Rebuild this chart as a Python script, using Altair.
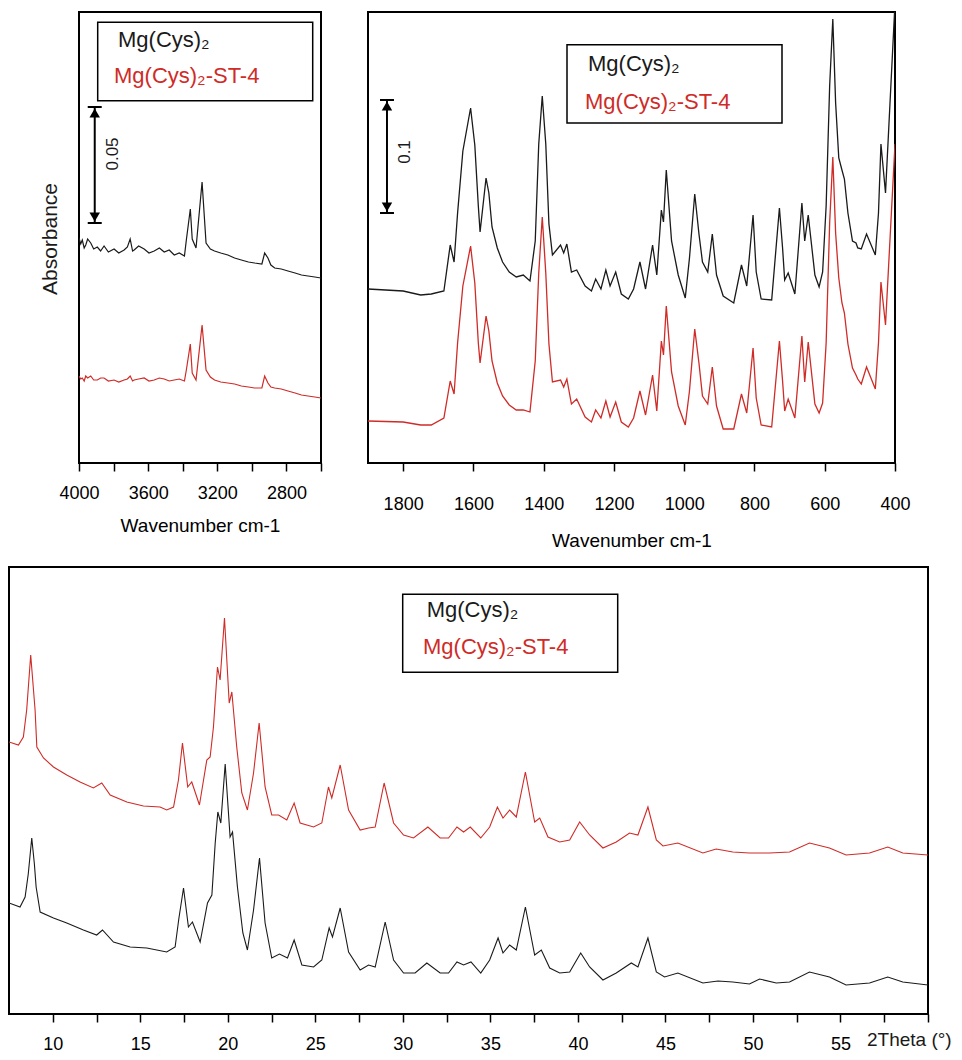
import altair as alt
import pandas as pd

FONT = "Liberation Sans"
BLACK = "#1a1a1a"
RED = "#cf2b27"
SERIES = ["Mg(Cys)₂", "Mg(Cys)₂-ST-4"]

# ---------------- IR 4000-2600 cm-1 (offset absorbance, a.u.) ----------------
ir_hi_wn = [4000, 3990, 3981, 3970, 3961, 3950, 3932, 3915, 3894, 3875, 3855, 3830, 3797,
            3770, 3739, 3720, 3704, 3690, 3681, 3655, 3623, 3595, 3565, 3535, 3507, 3478,
            3449, 3420, 3390, 3379, 3356, 3345, 3323, 3288, 3265, 3240, 3216, 3180, 3139,
            3100, 3061, 3020, 2984, 2942, 2926, 2907, 2890, 2868, 2830, 2791, 2750, 2713,
            2675, 2636, 2600]
ir_hi_black = [225, 219, 223, 215, 218, 224, 220, 214, 216, 212, 217, 211, 214,
               210, 213, 216, 224, 212, 213, 217, 214, 210, 212, 215, 211, 213,
               208, 210, 207, 223, 254, 224, 215, 281, 220, 214, 212, 210, 208,
               205, 203, 201, 200, 199, 210, 205, 198, 195, 194, 192, 190, 188,
               187, 186, 185]
ir_hi_red = [87, 84, 85, 82, 87, 85, 87, 83, 83, 85, 85, 82, 83,
             81, 83, 84, 87, 82, 83, 84, 85, 82, 83, 85, 84, 82,
             83, 84, 82, 93, 119, 90, 83, 138, 93, 86, 83, 81, 80,
             79, 77, 76, 75, 75, 87, 80, 76, 75, 74, 72, 70, 68,
             67, 66, 65]
ir_hi_ticks = [2600, 2800, 3000, 3200, 3400, 3600, 3800, 4000]
ir_hi_bar = [3909, 240, 356]          # x, bottom, top of the 0.05 bar

# ---------------- IR 1900-400 cm-1 ----------------
ir_lo_wn = [1900, 1800, 1750, 1720, 1684, 1666, 1655, 1645, 1630, 1608, 1596, 1586, 1581,
            1564, 1556, 1547, 1532, 1517, 1498, 1478, 1458, 1439, 1424, 1414, 1404, 1394,
            1385, 1375, 1352, 1343, 1334, 1321, 1306, 1282, 1264, 1252, 1237, 1223, 1211,
            1195, 1179, 1159, 1144, 1126, 1110, 1090, 1078, 1065, 1059, 1051, 1036, 1017,
            997, 985, 970, 958, 948, 933, 920, 908, 889, 859, 837, 822, 804, 795, 781, 751,
            729, 720, 714, 704, 685, 665, 657, 647, 628, 616, 606, 596, 586, 577, 569, 560,
            551, 544, 534, 521, 511, 506, 496, 481, 456, 447, 440, 427, 400]
ir_lo_black = [174, 172, 168, 169, 172, 218, 201, 250, 312, 355, 318, 257, 231,
               285, 270, 236, 215, 201, 191, 186, 188, 182, 222, 319, 367, 319,
               239, 208, 218, 210, 219, 191, 193, 177, 172, 184, 174, 193, 177,
               191, 169, 164, 174, 201, 174, 218, 188, 253, 241, 293, 222, 188,
               165, 205, 269, 229, 201, 191, 229, 188, 167, 160, 198, 177, 248, 191, 164, 163,
               255, 215, 183, 190, 169, 260, 222, 248, 188, 176, 191, 257, 377, 444, 360, 305,
               293, 284, 250, 222, 220, 215, 214, 229, 208, 250, 319, 270, 460]
ir_lo_red = [42, 41, 38, 38, 45, 82, 69, 120, 177, 217, 180, 120, 100,
             147, 132, 102, 80, 67, 58, 53, 53, 51, 102, 190, 246, 190,
             119, 81, 83, 76, 84, 59, 64, 46, 41, 53, 45, 62, 46,
             61, 41, 36, 45, 72, 48, 88, 52, 122, 108, 157, 91, 57,
             38, 72, 134, 100, 67, 59, 96, 57, 34, 34, 69, 50, 115, 65, 38, 36,
             122, 82, 52, 64, 45, 127, 81, 121, 59, 50, 60, 120, 240, 306, 230, 185,
             160, 150, 119, 95, 88, 84, 79, 96, 74, 120, 181, 138, 319]
ir_lo_ticks = [400, 600, 800, 1000, 1200, 1400, 1600, 1800]
ir_lo_bar = [1846, 250, 363]          # x, bottom, top of the 0.1 bar

# ---------------- XRD ----------------
xrd_red_2t = [7.5, 8.04, 8.32, 8.51, 8.74, 8.99, 9.09, 9.47, 10.04, 10.8, 11.56, 12.32, 12.8,
              13.28, 14.23, 15.18, 16.13, 16.51, 16.9, 17.18, 17.41, 17.71, 17.94, 18.38,
              18.8, 18.99, 19.18, 19.41, 19.56, 19.81, 20.08, 20.23, 20.51, 20.8, 21.12,
              21.47, 21.79, 22.13, 22.51, 22.9, 23.37, 23.79, 24.13, 24.9, 25.37, 25.75,
              25.94, 26.42, 26.9, 27.56, 28.04, 28.42, 28.93, 29.47, 30.04, 30.61, 31.43,
              32.13, 32.61, 33.09, 33.47, 33.85, 34.45, 34.96, 35.4, 35.72, 36.1, 36.48,
              37.0, 37.53, 37.82, 38.29, 38.96, 39.53, 40.1, 40.67, 41.43, 42.19, 42.95,
              43.43, 44.0, 44.48, 44.86, 45.71, 47.14, 47.9, 48.85, 49.8, 50.95, 52.09,
              53.23, 54.37, 55.32, 56.66, 57.7, 58.56, 60.0]
xrd_red_i = [272, 269, 277, 304, 359, 304, 267, 256, 247, 239, 232, 226, 231,
             219, 212, 208, 207, 204, 207, 234, 271, 227, 232, 209,
             254, 257, 287, 347, 334, 396, 311, 322, 267, 221, 204,
             241, 291, 227, 199, 199, 194, 211, 191, 187, 191, 227,
             216, 249, 204, 184, 186, 187, 231, 191, 179, 176, 187,
             176, 176, 187, 182, 187, 176, 187, 207, 196, 204, 197,
             242, 192, 196, 177, 172, 174, 192, 179, 166, 172, 181,
             179, 207, 174, 168, 171, 161, 165, 162, 161, 161, 162,
             171, 166, 159, 161, 167, 161, 159]
xrd_black_2t = [7.5, 8.13, 8.42, 8.6, 8.8, 8.95, 9.05, 9.28, 10.04, 10.8, 11.75, 12.51, 12.84,
                13.47, 14.42, 15.37, 16.51, 16.99, 17.2, 17.47, 17.75, 17.98, 18.42, 18.84,
                19.09, 19.28, 19.43, 19.6, 19.85, 20.13, 20.27, 20.55, 20.86, 21.12, 21.47,
                21.81, 22.13, 22.51, 22.95, 23.41, 23.79, 24.23, 24.9, 25.37, 25.79, 25.98,
                26.42, 26.9, 27.56, 28.04, 28.42, 28.99, 29.47, 30.04, 30.7, 31.37, 32.13,
                32.61, 33.09, 33.47, 33.89, 34.45, 34.96, 35.44, 35.72, 36.1, 36.48, 37.0,
                37.53, 37.91, 38.39, 38.96, 39.53, 40.16, 40.67, 41.43, 42.19, 43.05, 43.43,
                44.0, 44.48, 44.95, 45.71, 47.14, 48.0, 48.85, 49.8, 50.38, 51.33, 52.09,
                53.23, 54.37, 55.32, 56.66, 57.7, 58.56, 60.0]
xrd_black_i = [111, 107, 117, 140, 176, 150, 127, 102, 96, 91, 84, 79, 84,
               72, 67, 66, 62, 67, 95, 126, 87, 92, 72, 111,
               119, 171, 202, 191, 250, 177, 182, 127, 81, 64, 104,
               156, 91, 56, 60, 56, 74, 49, 47, 54, 86, 77,
               106, 62, 44, 49, 47, 92, 54, 41, 41, 51, 41,
               41, 52, 49, 52, 41, 54, 76, 61, 69, 64, 107,
               59, 64, 46, 41, 42, 61, 47, 34, 41, 51, 47,
               76, 42, 37, 41, 31, 33, 32, 30, 35, 31, 32,
               42, 37, 29, 31, 37, 32, 29]
xrd_ticks = [10, 12.5, 15, 17.5, 20, 22.5, 25, 27.5, 30, 32.5, 35, 37.5, 40, 42.5,
             45, 47.5, 50, 52.5, 55, 57.5, 60]


def long_df(xa, ya, xb, yb):
    return pd.DataFrame({
        "x": list(xa) + list(xb),
        "y": list(ya) + list(yb),
        "s": [SERIES[0]] * len(xa) + [SERIES[1]] * len(xb),
    })


one = pd.DataFrame({"a": [0]})
color = alt.Color("s:N", scale=alt.Scale(domain=SERIES, range=[BLACK, RED]), legend=None)


def legend_layers(x0, x1, y0, y1, tx_black, ty_black, tx_red, ty_red, fs=22):
    box = alt.Chart(one).mark_rect(fill="white", stroke="black", strokeWidth=1.5).encode(
        x=alt.value(x0), x2=alt.value(x1), y=alt.value(y0), y2=alt.value(y1))
    t1 = alt.Chart(one).mark_text(align="left", baseline="middle", font=FONT, fontSize=fs,
                                  color=BLACK).encode(
        x=alt.value(tx_black), y=alt.value(ty_black), text=alt.value(SERIES[0]))
    t2 = alt.Chart(one).mark_text(align="left", baseline="middle", font=FONT, fontSize=fs,
                                  color=RED).encode(
        x=alt.value(tx_red), y=alt.value(ty_red), text=alt.value(SERIES[1]))
    return [box, t1, t2]


def scalebar_layers(bar, xenc, yenc, label, lx, ly):
    dfb = pd.DataFrame({"x": [bar[0]], "y": [bar[1]], "y2": [bar[2]]})
    dfc = pd.DataFrame({"x": [bar[0], bar[0]], "y": [bar[1], bar[2]]})
    dft = pd.DataFrame({"x": [bar[0]], "y": [bar[2]]})
    dfbm = pd.DataFrame({"x": [bar[0]], "y": [bar[1]]})
    rule = alt.Chart(dfb).mark_rule(color="black", strokeWidth=2).encode(
        x=xenc, y=yenc, y2="y2:Q")
    caps = alt.Chart(dfc).mark_point(shape="stroke", size=196, strokeWidth=2,
                                     color="black", opacity=1).encode(x=xenc, y=yenc)
    up = alt.Chart(dft).mark_point(shape="triangle-up", filled=True, size=110,
                                   color="black", opacity=1, yOffset=6).encode(x=xenc, y=yenc)
    dn = alt.Chart(dfbm).mark_point(shape="triangle-down", filled=True, size=110,
                                    color="black", opacity=1, yOffset=-6).encode(x=xenc, y=yenc)
    lab = alt.Chart(one).mark_text(angle=270, align="center", baseline="middle", font=FONT,
                                   fontSize=17, color=BLACK).encode(
        x=alt.value(lx), y=alt.value(ly), text=alt.value(label))
    return [rule, caps, up, dn, lab]


FRAME = alt.ViewBackground(stroke="black", strokeWidth=2)

# ---- left IR panel ----
x_hi = alt.X("x:Q", scale=alt.Scale(domain=[2600, 4000], reverse=True, nice=False, zero=False),
             axis=alt.Axis(values=ir_hi_ticks,
                           labelExpr="datum.value % 400 === 0 ? '' + datum.value : ''",
                           tickSize=8, labelPadding=13, labelFlush=False,
                           title="Wavenumber cm-1", titlePadding=14))
y_hi = alt.Y("y:Q", scale=alt.Scale(domain=[0, 451], nice=False, zero=False), axis=None)
lines_hi = alt.Chart(long_df(ir_hi_wn, ir_hi_black, ir_hi_wn, ir_hi_red)).mark_line(
    strokeWidth=1.2, clip=True).encode(x=x_hi, y=y_hi, color=color, detail="s:N")
left = alt.layer(
    lines_hi,
    *legend_layers(18.7, 233.7, 10.3, 88.7, 39, 28, 35, 64),
    *scalebar_layers(ir_hi_bar, x_hi, y_hi, "0.05", 34, 142),
).properties(width=242, height=451, view=FRAME)

# ---- right IR panel ----
x_lo = alt.X("x:Q", scale=alt.Scale(domain=[400, 1900], reverse=True, nice=False, zero=False),
             axis=alt.Axis(values=ir_lo_ticks, format="d", tickSize=8, labelPadding=24,
                           labelFlush=False, title="Wavenumber cm-1", titlePadding=18))
y_lo = alt.Y("y:Q", scale=alt.Scale(domain=[0, 451], nice=False, zero=False), axis=None)
lines_lo = alt.Chart(long_df(ir_lo_wn, ir_lo_black, ir_lo_wn, ir_lo_red)).mark_line(
    strokeWidth=1.3, clip=True).encode(x=x_lo, y=y_lo, color=color, detail="s:N")
right = alt.layer(
    lines_lo,
    *legend_layers(199, 414, 32.8, 111, 220, 51.7, 217, 89.6),
    *scalebar_layers(ir_lo_bar, x_lo, y_lo, "0.1", 37, 140),
).properties(width=527, height=451, view=FRAME)

# ---- spacers ----
spacer1 = alt.Chart(one).mark_text(angle=270, align="center", baseline="middle", font=FONT,
                                   fontSize=21, color=BLACK).encode(
    x=alt.value(42), y=alt.value(227), text=alt.value("Absorbance")
).properties(width=70, height=451)
spacer2 = alt.Chart(one).mark_point(opacity=0).encode(
    x=alt.value(20), y=alt.value(200)).properties(width=47, height=554)

# ---- XRD panel ----
x_xrd = alt.X("x:Q", scale=alt.Scale(domain=[7.5, 60], nice=False, zero=False),
              axis=alt.Axis(values=xrd_ticks,
                            labelExpr="datum.value % 5 === 0 && datum.value < 60 ? '' + datum.value : ''",
                            tickSize=8, labelPadding=13, labelFlush=False, title=""))
y_xrd = alt.Y("y:Q", scale=alt.Scale(domain=[0, 447], nice=False, zero=False), axis=None)
lines_xrd = alt.Chart(long_df(xrd_black_2t, xrd_black_i, xrd_red_2t, xrd_red_i)).mark_line(
    strokeWidth=1.1, clip=True).encode(x=x_xrd, y=y_xrd, color=color, detail="s:N")
theta_lab = alt.Chart(one).mark_text(align="left", baseline="middle", font=FONT, fontSize=19,
                                     color=BLACK).encode(
    x=alt.value(858), y=alt.value(473), text=alt.value("2Theta (°)"))
bottom = alt.layer(
    lines_xrd,
    *legend_layers(393.7, 608.7, 27.3, 105.3, 417.7, 43, 414, 79.7),
    theta_lab,
).properties(width=919, height=447, view=FRAME)

top = alt.hconcat(spacer1, left, spacer2, right, spacing=0, bounds="flush")
chart = alt.vconcat(top, bottom, spacing=0).properties(
    padding={"left": 0, "top": 3, "right": 0, "bottom": 0}, background="white"
).configure_view(strokeWidth=0).configure_axis(
    grid=False, domain=False, labelFont=FONT, labelFontSize=18, labelColor="black",
    tickColor="black", tickWidth=1.5, titleFont=FONT, titleFontSize=19,
    titleFontWeight="normal", titleColor="black"
)

chart.save("out.html", embed_options={"renderer": "svg", "actions": False})
